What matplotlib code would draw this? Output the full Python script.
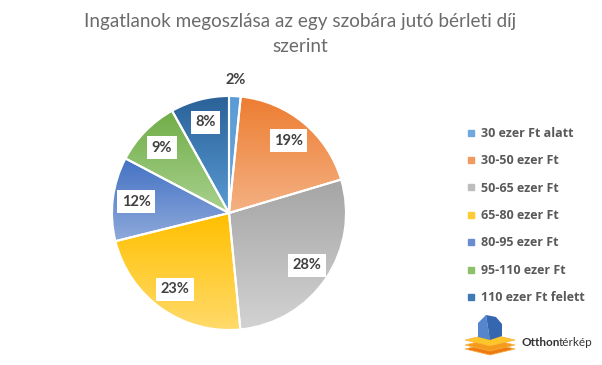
import matplotlib.pyplot as plt
import numpy as np
from matplotlib.colors import LinearSegmentedColormap
from matplotlib.patches import Polygon
from matplotlib.lines import Line2D

# adatok
title = 'Ingatlanok megoszlása az egy szobára jutó bérleti díj\nszerint'
categories = ['30 ezer Ft alatt', '30-50 ezer Ft', '50-65 ezer Ft', '65-80 ezer Ft',
              '80-95 ezer Ft', '95-110 ezer Ft', '110 ezer Ft felett']
shares = [1.6, 18.8, 28.1, 22.7, 11.6, 9.2, 8.1]
pct_labels = ['2%', '19%', '28%', '23%', '12%', '9%', '8%']

# szinatmenet: felso -> also szin
top_colors = ['#5B9BD5', '#ED7D31', '#A5A5A5', '#FFC000', '#4472C4', '#70AD47', '#2A6299']
bottom_colors = ['#6FA8DC', '#F4B183', '#D2D2D2', '#FFDA6A', '#8EA9DB', '#A9D18E', '#5A9AD3']
legend_colors = ['#6FA8DC', '#F09A60', '#BDBDBD', '#FFCB33', '#6A8CD0', '#8CC06A', '#3F7AB5']

plt.rcParams['font.family'] = ['Lato', 'DejaVu Sans']

fig = plt.figure(figsize=(6.02, 3.65), dpi=100)

# kor diagram
ax = fig.add_axes([112/602, (365-213-117)/365, 234/602, 234/365])
wedges, texts = ax.pie(shares, labels=pct_labels, startangle=90, counterclock=False,
                       labeldistance=0.8,
                       wedgeprops=dict(edgecolor='white', linewidth=1.5))

for i, w in enumerate(wedges):
    th = np.linspace(w.theta1, w.theta2, 60)
    xs = np.concatenate([[0], np.cos(np.radians(th))])
    ys = np.concatenate([[0], np.sin(np.radians(th))])
    cmap = LinearSegmentedColormap.from_list('g%d' % i, [top_colors[i], bottom_colors[i]])
    grad = np.linspace(0, 1, 100).reshape(-1, 1)
    im = ax.imshow(grad, cmap=cmap, origin='upper', aspect='auto',
                   extent=(xs.min(), xs.max(), ys.min(), ys.max()), zorder=1)
    im.set_clip_path(w)
    w.set_facecolor('none')
    w.set_zorder(2)

for i, t in enumerate(texts):
    t.set_ha('center')
    t.set_va('center')
    t.set_fontsize(10.5)
    t.set_fontweight('bold')
    t.set_color('#404040')
    t.set_zorder(3)
    if i == 0:
        w = wedges[0]
        mid = np.radians((w.theta1 + w.theta2) / 2)
        t.set_position((1.14*np.cos(mid), 1.14*np.sin(mid)))
    else:
        t.set_bbox(dict(boxstyle='square,pad=0.3', fc='white', ec='none'))

ax.set_xlim(-1, 1)
ax.set_ylim(-1, 1)
ax.set_aspect('equal')
ax.axis('off')

# cim
line1, line2 = title.split('\n')
fig.text(300/602, 1-21/365, line1, ha='center', va='center', fontsize=13.6, color='#6B6B6B')
fig.text(300/602, 1-47/365, line2, ha='center', va='center', fontsize=13.6, color='#6B6B6B')

# jelmagyarazat
handles = [Line2D([], [], marker='s', ls='', color=c, markersize=5) for c in legend_colors]
fig.legend(handles, categories, loc='upper left', bbox_to_anchor=(461/602, 1-122/365),
           frameon=False, prop=dict(family=['Open Sans', 'DejaVu Sans'], weight='bold', size=9),
           labelcolor='#595959',
           handletextpad=0.4, handlelength=0.8, labelspacing=1.15, borderaxespad=0)

# logo
lg = fig.add_axes([0, 0, 1, 1], zorder=-1)
lg.set_xlim(0, 602)
lg.set_ylim(365, 0)
lg.axis('off')
for yc, c in [(349, '#EE7A12'), (345, '#F59B1C'), (340, '#FFC629')]:
    lg.add_patch(Polygon([(465, yc), (490, yc-6), (515, yc), (490, yc+6)], closed=True,
                         fc=c, ec='#F7B040', lw=0.5))
lg.add_patch(Polygon([(478, 337), (478, 323), (486, 315), (490, 340)], closed=True, fc='#5585CC', ec='none'))
lg.add_patch(Polygon([(486, 315), (496, 317), (502, 324), (502, 336), (490, 340)], closed=True,
                     fc='#3566B0', ec='none'))
t1 = lg.text(522, 343, 'Otthon', fontsize=8.5, fontweight='bold', color='#333333',
             va='center', ha='left')
lg.annotate('térkép', xy=(1, 0.5), xycoords=t1, xytext=(-1.5, 0), textcoords='offset points',
            fontsize=8.5, color='#333333', va='center', ha='left')

fig.savefig('out.png', dpi=100)
